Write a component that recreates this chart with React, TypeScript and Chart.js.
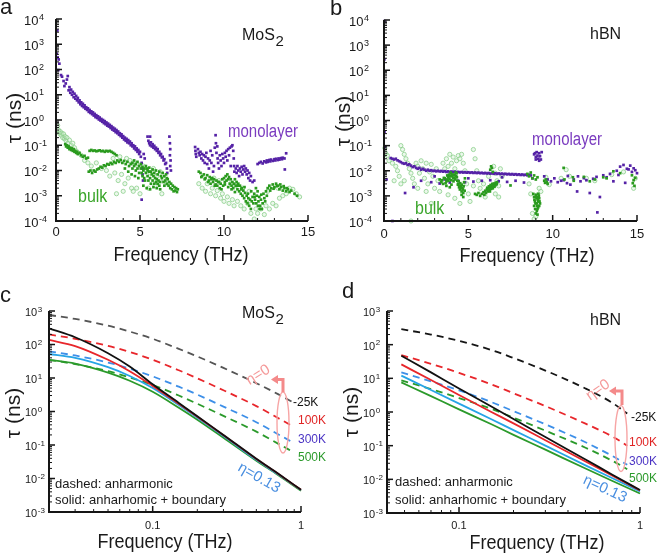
import React, { useEffect, useRef } from "react";
import { Chart, registerables } from "chart.js";
Chart.register(...registerables);

type Pt = [number, number];
const FONT = '"Liberation Sans", Arial, Helvetica, sans-serif';

// ---------- tick labels ----------
const scatterXTicks = [0, 5, 10, 15];
const scatterYExps = [-4, -3, -2, -1, 0, 1, 2, 3, 4];
const lineXTicks = [0.1, 1];
const lineYExps = [-3, -2, -1, 0, 1, 2, 3];

// ---------- panel a : MoS2 scatter ----------
const mos2Monolayer: Pt[] = [
  [0.08,3500],[0.04,420],[0.1,300],[0.16,250],[0.2,170],[0.14,95],[0.3,60],[0.36,52],[0.45,35],[0.5,22],[0.58,28],[0.65,40],[0.7,55],[0.75,15],[0.8,20],[0.85,12],[0.9,16],[0.95,10],[1.0,13],[1.05,8],[1.1,11],[1.15,7],[1.2,9],[1.25,6],[1.3,7.5],[1.35,5],[1.4,6],[1.45,4.2],[1.5,5],[1.55,3.6],[1.6,4.4],[1.65,3.2],[1.7,3.8],[1.75,2.8],[1.8,3.2],[1.85,2.5],[1.9,2.9],[1.95,2.1],[2.0,2.5],[2.05,1.9],[2.1,2.2],[2.15,1.7],[2.2,2.0],[2.25,1.5],[2.3,1.75],[2.35,1.3],[2.4,1.55],[2.45,1.2],[2.5,1.4],[2.55,1.05],[2.6,1.25],[2.65,0.95],[2.7,1.1],[2.75,0.85],[2.8,1.0],[2.85,0.75],[2.9,0.9],[2.95,0.68],[3.0,0.8],[3.05,0.6],[3.1,0.72],[3.15,0.55],[3.2,0.64],[3.25,0.48],[3.3,0.57],[3.35,0.42],[3.4,0.5],[3.45,0.38],[3.5,0.45],[3.55,0.33],[3.6,0.4],[3.65,0.3],[3.7,0.35],[3.75,0.26],[3.8,0.3],[3.85,0.23],[3.9,0.27],[3.95,0.2],[4.0,0.23],[4.05,0.17],[4.1,0.2],[4.15,0.15],[4.2,0.18],[4.25,0.13],[4.3,0.16],[4.35,0.12],[4.4,0.14],[4.45,0.1],[4.5,0.12],[4.55,0.09],[4.6,0.1],[4.65,0.075],[4.7,0.09],[4.75,0.065],[4.8,0.075],[4.85,0.055],[4.9,0.065],[4.95,0.045],[5.0,0.055],[5.05,0.035],[5.1,0.02],[5.12,0.012],[5.15,0.007],[5.18,0.004],[5.1,0.0007],[5.22,0.045],[5.28,0.03],
  [5.45,0.22],[5.6,0.22],[5.5,0.15],[5.55,0.12],[5.6,0.1],[5.65,0.13],[5.7,0.09],[5.75,0.11],[5.8,0.08],[5.85,0.095],[5.9,0.07],[5.95,0.08],[6.0,0.06],[6.05,0.07],[6.1,0.05],[6.15,0.055],[6.2,0.04],[6.25,0.045],[6.3,0.033],[6.35,0.035],[6.4,0.025],[6.45,0.028],[6.5,0.018],[6.55,0.02],[6.6,0.012],[6.62,0.008],[6.75,0.22],[6.78,0.12],[6.8,0.07],[6.78,0.04],[6.82,0.025],[6.8,0.015],[6.84,0.01],
  [8.28,0.085],[8.3,0.06],[8.32,0.045],[8.35,0.035],[8.45,0.07],[8.5,0.05],[8.55,0.04],[8.6,0.055],[8.65,0.03],[8.7,0.045],[8.75,0.025],[8.8,0.04],[8.85,0.02],[8.9,0.035],[8.95,0.05],[9.0,0.018],[9.05,0.03],[9.1,0.012],[9.15,0.025],[9.2,0.06],[9.25,0.02],[9.3,0.04],[9.35,0.009],[9.4,0.015],[9.45,0.08],[9.5,0.25],[9.52,0.12],[9.55,0.05],[9.6,0.09],[9.62,0.03],[9.65,0.02],[9.7,0.012],[9.75,0.04],[9.8,0.025],[9.85,0.015],[9.9,0.045],[9.95,0.03],[10.0,0.02],[10.05,0.05],[10.1,0.035],[10.15,0.06],[10.2,0.025],[10.25,0.07],[10.3,0.04],[10.35,0.08],[10.4,0.015],[10.45,0.09],[10.5,0.1],[10.55,0.06],[10.58,0.03],[10.6,0.015],[10.62,0.009],[10.7,0.012],[10.75,0.008],[10.8,0.015],[10.85,0.01],[10.9,0.006],[10.95,0.012],[11.0,0.009],[11.05,0.014],[11.1,0.007],[11.15,0.011],[11.2,0.015],[11.25,0.009],[11.3,0.012],[11.35,0.007],[11.4,0.01],[11.45,0.005],[11.5,0.008],[11.55,0.004],[11.6,0.006],[11.7,0.0035],[11.8,0.004],
  [12.0,0.018],[12.1,0.02],[12.2,0.022],[12.3,0.019],[12.4,0.023],[12.5,0.021],[12.55,0.025],[12.6,0.022],[12.7,0.026],[12.75,0.023],[12.8,0.027],[12.9,0.024],[13.0,0.028],[13.05,0.025],[13.1,0.029],[13.2,0.026],[13.25,0.03],[13.3,0.027],[13.4,0.031],[13.45,0.028],[13.5,0.032],[13.6,0.03],[13.7,0.048],[13.62,0.011],
];
const mos2BulkFilled: Pt[] = [
  [0.55,0.11],[0.6,0.09],[0.65,0.1],[0.7,0.08],[0.75,0.09],[0.8,0.07],[0.85,0.08],[0.9,0.065],[0.95,0.075],[1.0,0.06],[1.05,0.07],[1.1,0.055],[1.15,0.06],[1.2,0.05],[1.25,0.055],[1.3,0.045],[1.4,0.05],[1.5,0.04],[1.6,0.035],[1.7,0.038],[1.8,0.03],[1.9,0.032],[2.0,0.06],[2.1,0.065],[2.2,0.06],[2.3,0.062],[2.4,0.058],[2.5,0.06],[2.6,0.063],[2.7,0.058],[2.8,0.06],[2.9,0.055],[3.0,0.06],[3.1,0.057],[3.2,0.06],[3.3,0.055],[3.4,0.05],[3.5,0.045],[3.6,0.04],
  [1.95,0.009],[2.05,0.01],[2.15,0.008],[2.25,0.01],[2.35,0.009],[2.45,0.011],[2.55,0.012],[2.65,0.014],[2.75,0.013],[2.85,0.016],[2.95,0.015],[3.05,0.018],[3.15,0.017],[3.25,0.02],[3.35,0.018],[3.45,0.022],[3.55,0.02],[3.65,0.025],[3.75,0.022],[3.85,0.026],[3.95,0.02],[4.05,0.024],[4.15,0.018],[4.25,0.022],[4.35,0.015],[4.45,0.018],[4.55,0.012],[4.65,0.015],[4.75,0.01],[4.85,0.012],[4.95,0.008],[4.1,0.012],[4.3,0.009],[4.5,0.007],[4.7,0.006],[4.9,0.005],
  [4.55,0.02],[4.65,0.025],[4.75,0.018],[4.85,0.022],[4.95,0.015],[5.05,0.018],[5.15,0.014],[5.25,0.012],[5.35,0.015],[5.45,0.01],[5.55,0.013],[5.65,0.009],[5.75,0.011],[5.85,0.008],[5.95,0.01],[6.05,0.007],[6.15,0.009],[6.25,0.006],[6.35,0.008],[6.45,0.006],[6.55,0.007],[6.6,0.005],[5.2,0.0025],[5.4,0.002],[5.6,0.0018],[5.8,0.0022],[6.0,0.002],[6.2,0.0018],[6.45,0.0025],
  [5.05,0.012],[5.1,0.008],[5.15,0.006],[5.2,0.01],[5.25,0.005],[5.3,0.004],[5.35,0.008],[5.4,0.012],[5.45,0.006],[5.5,0.004],[5.55,0.009],[5.6,0.005],[5.65,0.003],[5.7,0.007],[5.75,0.004],[5.8,0.006],[5.85,0.003],[5.9,0.005],[5.95,0.0035],[6.0,0.0045],[6.05,0.003],[6.1,0.004],[6.15,0.0025],[6.2,0.0035],[6.3,0.005],[6.4,0.0035],[6.5,0.004],[6.6,0.003],[6.65,0.0045],[6.7,0.0025],[6.75,0.0035],[6.8,0.002],[6.85,0.003],[6.9,0.0018],[6.95,0.0025],[7.0,0.0015],[7.05,0.0022],[7.1,0.0016],[7.15,0.002],[7.2,0.0014],[7.25,0.0018],
  [8.6,0.008],[8.7,0.006],[8.8,0.007],[8.9,0.005],[9.0,0.0065],[9.1,0.004],[9.15,0.0055],[9.2,0.003],[9.3,0.005],[9.35,0.0035],[9.4,0.0045],[9.5,0.0028],[9.55,0.004],[9.6,0.0025],[9.7,0.0035],[9.75,0.002],[9.8,0.003],[9.9,0.0045],[9.95,0.0025],[10.0,0.005],[10.05,0.0035],[10.1,0.006],[10.15,0.004],[10.2,0.007],[10.25,0.0045],[10.3,0.0055],[10.35,0.003],[10.4,0.0045],[10.45,0.0025],[10.5,0.0035],[10.55,0.002],[10.6,0.003],[10.65,0.0045],[10.7,0.0025],[10.75,0.0035],[10.8,0.0018],[10.85,0.003],[10.9,0.0015],[10.95,0.0025],[11.0,0.0012],[11.05,0.002],[11.1,0.001],[11.15,0.0016],[11.2,0.0008],[11.25,0.0013],[11.3,0.0006],[11.35,0.001],[11.4,0.0005],[11.45,0.0008],[11.5,0.0004],[11.55,0.0007],[11.6,0.0003],[11.65,0.0006],[11.7,0.0009],[11.75,0.0005],[11.8,0.0012],[11.85,0.0007],[11.9,0.002],[11.95,0.001],[12.0,0.0015],[12.05,0.0006],[12.1,0.0009],[12.15,0.0004],[12.2,0.0007],[12.3,0.0005],[12.35,0.0012],[12.4,0.0008],[12.5,0.0015],[12.6,0.002],[12.7,0.0025],[12.8,0.002],[12.9,0.0028],[13.0,0.0022],[13.1,0.003],[13.2,0.0025],[13.3,0.0018],[13.4,0.0022],[13.5,0.0016],[13.6,0.002],[13.7,0.0015],[13.8,0.0018],[13.9,0.0014],[14.0,0.0016],[14.2,0.0012],[14.35,0.001],
  [8.5,0.009],[8.65,0.0055],[8.85,0.0045],[9.05,0.0035],[9.25,0.0045],[9.45,0.0025],[9.65,0.0035],[9.85,0.0018],[10.05,0.0028],[10.25,0.0022],[10.45,0.0018],[10.65,0.0014],[10.82,0.0025],[11.02,0.0018],[11.22,0.0022],[11.42,0.0012],[11.62,0.0015],[11.82,0.0009],[12.02,0.0004],[12.12,0.0003],[12.25,0.0003],[11.92,0.0005],[12.22,0.0011],[12.45,0.0006],[12.55,0.001],[12.75,0.0016],[12.95,0.0019],[13.15,0.0024],[13.35,0.0028],[13.55,0.0024],[13.75,0.002],
];
const mos2BulkOpen: Pt[] = [
  [0.1,0.6],[0.15,0.4],[0.2,0.3],[0.25,0.35],[0.3,0.25],[0.35,0.3],[0.4,0.2],[0.45,0.28],[0.5,0.18],[0.55,0.22],[0.6,0.15],[0.65,0.2],[0.7,0.12],[0.8,0.16],[0.9,0.1],[1.0,0.12],[1.1,0.08],[1.2,0.06],[1.3,0.05],[1.5,0.04],[1.7,0.025],[1.9,0.02],[2.1,0.015],[2.4,0.02],[2.7,0.012],[3.0,0.01],[3.2,0.006],[3.5,0.008],[3.7,0.004],[3.9,0.007],[4.1,0.003],[4.3,0.005],[4.5,0.002],[4.6,0.0015],[4.8,0.002],[5.0,0.0012],[3.4,0.03],[3.8,0.035],[4.2,0.03],[4.4,0.025],[4.6,0.02],[4.8,0.018],[5.2,0.015],[5.4,0.01],[5.6,0.008],[5.8,0.012],[6.0,0.006],[6.2,0.009],[6.4,0.0045],[6.6,0.003],[4.0,0.0015],[3.6,0.0012],[5.5,0.002],[5.9,0.0025],[6.3,0.0012],
  [8.5,0.003],[8.7,0.002],[8.9,0.0015],[9.0,0.003],[9.2,0.0012],[9.3,0.002],[9.5,0.001],[9.6,0.0016],[9.8,0.0008],[9.9,0.0012],[10.0,0.0006],[10.2,0.0009],[10.3,0.0005],[10.5,0.0007],[10.6,0.0004],[10.8,0.0006],[11.0,0.0004],[11.2,0.0003],[11.4,0.0005],[11.6,0.0002],[11.8,0.00012],[11.9,0.0003],[12.0,0.0002],[12.2,0.0003],[12.4,0.00018],[12.5,0.0004],[12.7,0.0003],[12.9,0.0005],[13.1,0.0004],[13.3,0.0008],[13.5,0.001],[13.7,0.0012],[13.9,0.002],[14.1,0.0018],[14.3,0.0012],[14.5,0.0009],[10.4,0.003],[10.7,0.0025],[11.1,0.002],[11.5,0.0015],[9.4,0.005],[9.7,0.004],[12.6,0.0015],[13.2,0.002],
];

// ---------- panel b : hBN scatter ----------
const hbnMonolayer: Pt[] = [
  [0.02,9000],[0.02,270],[0.03,0.36],[0.05,0.09],[0.15,0.0045],[0.4,0.032],[0.5,0.03],[0.6,0.028],[0.7,0.03],[0.8,0.026],[0.9,0.024],[1.0,0.022],[1.1,0.02],[1.2,0.019],[1.3,0.02],[1.4,0.017],[1.5,0.018],[1.6,0.016],[1.7,0.014],[1.8,0.015],[1.9,0.013],[2.0,0.012],[2.1,0.013],[2.2,0.011],[2.3,0.012],[2.4,0.011],[2.5,0.01],[2.6,0.011],[2.7,0.01],[2.8,0.0105],[2.9,0.0098],[3.0,0.01],[3.1,0.0095],[3.2,0.01],[3.3,0.0094],[3.4,0.0098],[3.5,0.0092],[3.6,0.0096],[3.7,0.009],[3.8,0.0094],[3.9,0.0089],[4.0,0.0093],[4.1,0.0088],[4.2,0.0092],[4.3,0.0087],[4.4,0.009],[4.5,0.0086],[4.6,0.0089],[4.7,0.0085],[4.8,0.0088],[4.9,0.0084],[5.0,0.0087],[5.1,0.0083],[5.2,0.0086],[5.3,0.0082],[5.4,0.0085],[5.5,0.0081],[5.6,0.0084],[5.7,0.008],[5.8,0.0083],[5.9,0.0079],[6.0,0.0082],[6.1,0.0078],[6.2,0.0081],[6.3,0.0077],[6.4,0.008],[6.5,0.0076],[6.6,0.0079],[6.7,0.0075],[6.8,0.0078],[6.9,0.0074],[7.0,0.0077],[7.1,0.0073],[7.2,0.0076],[7.3,0.0072],[7.4,0.0075],[7.5,0.0071],[7.6,0.0074],[7.7,0.007],[7.8,0.0073],[7.9,0.0069],[8.0,0.0072],[8.1,0.0068],[8.2,0.0071],[8.3,0.0067],[8.4,0.007],[8.5,0.0066],[8.6,0.0069],[8.7,0.0065],
  [1.25,0.0013],[1.75,0.0022],[0.5,0.0001],[2.2,0.004],[2.8,0.0035],[3.3,0.0031],[3.6,0.0045],[3.9,0.0034],[4.4,0.004],[4.8,0.0035],[5.3,0.0037],[5.8,0.004],[6.3,0.0042],[6.8,0.0038],[7.3,0.0036],[7.8,0.004],[8.3,0.0034],[8.8,0.005],[3.0,0.006],[5.0,0.005],[7.0,0.0055],
  [8.9,0.045],[8.95,0.05],[9.0,0.035],[9.05,0.055],[9.1,0.04],[9.15,0.03],[9.2,0.05],[9.25,0.038],[9.3,0.028],[9.35,0.055],[9.0,0.028],[9.2,0.025],
  [9.5,0.006],[9.7,0.0045],[9.9,0.0038],[10.1,0.005],[10.3,0.0035],[10.5,0.004],[10.65,0.0042],[10.85,0.0032],[11.05,0.0028],[11.25,0.0045],[11.45,0.0015],[11.65,0.0038],[11.85,0.0051],[12.0,0.0042],[12.2,0.0013],[12.4,0.0048],[12.6,0.0057],[12.65,0.00022],[12.8,0.0009],[13.0,0.0066],[13.2,0.0055],[13.4,0.0075],[13.6,0.0038],[13.8,0.01],[14.0,0.0146],[14.2,0.017],[14.3,0.0033],[14.4,0.012],[14.5,0.0113],[14.6,0.016],[14.7,0.009],[14.8,0.0125],[14.9,0.0105],[15.0,0.008],[13.9,0.0068],[11.5,0.006],[10.9,0.0062],
];
const hbnBulkFilled: Pt[] = [
  [3.3,0.0045],[3.4,0.0035],[3.5,0.003],[3.6,0.005],[3.7,0.0038],[3.75,0.0065],[3.8,0.0055],[3.85,0.007],[3.9,0.006],[3.95,0.0085],[4.0,0.0075],[4.05,0.006],[4.1,0.005],[4.15,0.007],[4.2,0.0065],[4.25,0.0085],[4.3,0.008],[4.35,0.004],[4.4,0.003],[4.45,0.0022],[4.5,0.0018],[4.55,0.0025],[4.6,0.0015],[4.65,0.002],[4.7,0.0013],[4.75,0.0035],[4.8,0.005],[4.0,0.0028],[3.9,0.0022],[3.7,0.0025],
  [3.45,0.0042],[3.55,0.0052],[3.65,0.0032],[3.72,0.0045],[3.82,0.004],[3.88,0.0048],[3.98,0.0042],[4.08,0.0068],[4.12,0.0038],[4.18,0.0052],[4.22,0.0045],[4.28,0.0062],[4.32,0.0055],[4.38,0.0028],[4.42,0.0038],[4.48,0.0025],[4.52,0.0032],[4.58,0.0021],[4.62,0.0028],[4.68,0.0018],[4.72,0.0024],[4.78,0.0016],[4.6,0.0011],[4.7,0.0009],
  [5.4,0.0012],[5.5,0.0011],[5.6,0.0013],[5.7,0.001],[5.8,0.0012],[5.9,0.0014],[6.0,0.0016],[6.1,0.0018],[6.15,0.0015],[6.2,0.002],[6.25,0.0017],[6.3,0.0022],[6.35,0.0019],[6.4,0.0024],[6.45,0.002],[6.5,0.0026],[6.55,0.0023],[6.6,0.0028],[6.3,0.011],[6.35,0.015],[6.4,0.013],[6.45,0.009],
  [5.95,0.0011],[6.05,0.0013],[6.12,0.0021],[6.22,0.0024],[6.28,0.0015],[6.32,0.0027],[6.38,0.0021],[6.42,0.003],[6.48,0.0024],[6.52,0.0031],[6.58,0.0026],[6.62,0.0033],[6.68,0.0029],[6.7,0.0035],
  [7.5,0.0026],[8.5,0.0075],[8.6,0.006],[8.7,0.0085],[8.8,0.005],[8.9,0.0065],[9.0,0.0045],[9.1,0.0055],
  [8.85,0.0012],[8.9,0.0009],[8.95,0.0006],[8.9,0.0004],[9.0,0.0011],[9.05,0.0008],[9.05,0.0005],[9.1,0.0003],[9.1,0.0009],[9.15,0.0006],[9.15,0.0012],[9.2,0.0004],[9.2,0.0008],[9.25,0.0005],[9.0,0.0002],[9.1,0.00018],
  [8.92,0.0007],[8.98,0.0005],[9.02,0.0009],[9.08,0.0004],[9.12,0.0007],[9.18,0.001],[9.22,0.0006],[8.96,0.0003],[9.06,0.00025],[9.14,0.00035],
  [9.5,0.004],[9.55,0.0033],[9.6,0.0045],[9.65,0.0035],[9.7,0.003],
  [10.65,0.013],[10.7,0.0045],[11.2,0.0055],[11.25,0.004],[11.85,0.0057],[12.2,0.0038],[12.5,0.0045],[13.0,0.0055],[13.2,0.005],[13.6,0.0095],[14.0,0.008],[14.7,0.0066],[14.75,0.0032],[14.8,0.0042],[14.85,0.0025],[14.9,0.0052],
];
const hbnBulkOpen: Pt[] = [
  [0.05,0.08],[0.1,0.05],[0.2,0.04],[0.3,0.025],[0.5,0.02],[0.7,0.015],[0.8,0.01],[0.9,0.006],[1.0,0.1],[1.1,0.07],[1.2,0.045],[1.3,0.03],[1.4,0.02],[1.5,0.012],[1.6,0.008],[1.7,0.005],[1.8,0.003],[1.9,0.02],[2.0,0.015],[2.1,0.008],[2.2,0.025],[2.3,0.012],[2.4,0.005],[2.5,0.02],[2.6,0.003],[2.7,0.009],[2.8,0.018],[2.9,0.006],[3.0,0.002],[3.1,0.012],[3.2,0.004],[1.2,0.004],[1.0,0.003],[0.6,0.004],[2.0,0.002],[2.5,0.0015],[3.3,0.0015],
  [3.5,0.02],[3.6,0.012],[3.7,0.03],[3.8,0.015],[3.9,0.045],[4.0,0.02],[4.1,0.035],[4.2,0.012],[4.3,0.025],[4.4,0.04],[4.5,0.03],[4.6,0.045],[4.7,0.02],[4.8,0.01],[4.9,0.003],[5.0,0.0012],[5.1,0.0006],[5.3,0.07],[5.4,0.03],[5.5,0.01],[5.3,0.0025],[5.6,0.004],[5.7,0.002],[5.9,0.003],[6.0,0.0009],[6.2,0.006],[6.5,0.015],[6.6,0.008],[6.7,0.004],[6.8,0.0025],[6.9,0.012],[7.0,0.006],[6.6,0.0012],[6.8,0.0009],[4.2,0.0008],[4.5,0.0005],[3.8,0.0011],[2.8,0.0005],[1.6,0.0001],
  [8.6,0.003],[8.7,0.0012],[8.8,0.0002],[8.9,0.00012],[9.0,0.00015],[9.1,0.0011],[9.2,0.002],[9.3,0.0015],[9.8,0.0028],[10.5,0.005],[11.0,0.006],[12.0,0.005],[12.5,0.004],[13.5,0.007],[14.2,0.009],[14.9,0.005],[14.8,0.002],[9.6,0.0055],[10.8,0.011],
];

// ---------- panel c : MoS2 lifetimes (log-log) ----------
const cDashX = [0.02, 0.03, 0.05, 0.07, 0.1, 0.15, 0.2, 0.3, 0.5, 0.7, 0.88];
const cDash25K = [760, 580, 365, 243, 148, 74, 44, 20, 7, 3.3, 1.9];
const cDash100K = [200, 148, 91, 60, 35, 17, 9.8, 4.3, 1.45, 0.64, 0.36];
const cDash300K = [62, 47, 29, 19, 11.2, 5.5, 3.2, 1.4, 0.48, 0.21, 0.12];
const cDash500K = [35, 26, 16, 10.4, 6.2, 3.0, 1.7, 0.74, 0.25, 0.11, 0.063];
const cSolidX = [0.02, 0.03, 0.05, 0.07, 0.1, 0.15, 0.2, 0.3, 0.5, 0.7, 1];
const cSolid25K = [305, 165, 55, 22, 6.5, 1.8, 0.72, 0.2, 0.039, 0.014, 0.0046];
const cSolid100K = [137, 90, 35, 16, 5.8, 1.7, 0.7, 0.195, 0.038, 0.0138, 0.0046];
const cSolid300K = [52, 40, 21, 11.5, 5.0, 1.55, 0.65, 0.185, 0.036, 0.0133, 0.0045];
const cSolid500K = [35, 27, 14.5, 8.3, 3.9, 1.3, 0.57, 0.165, 0.034, 0.0127, 0.0043];

// ---------- panel d : hBN lifetimes (log-log) ----------
const dDashX = [0.048, 0.07, 0.1, 0.15, 0.2, 0.3, 0.5, 0.7, 0.85];
const dDash25K = [288, 200, 130, 70, 40, 17, 5, 1.9, 0.9];
const dDash100K = [49, 27, 14.5, 6.7, 3.6, 1.5, 0.45, 0.19, 0.1];
const dDash300K = [15, 8.1, 4.4, 2.0, 1.06, 0.43, 0.126, 0.05, 0.027];
const dDash500K = [8.7, 4.8, 2.6, 1.26, 0.68, 0.28, 0.087, 0.036, 0.02];
const dSolidX = [0.048, 0.07, 0.1, 0.15, 0.2, 0.3, 0.5, 0.7, 1];
const dSolid25K = [47, 15, 5.0, 1.48, 0.62, 0.18, 0.039, 0.014, 0.0048];
const dSolid100K = [26, 8.9, 3.2, 1.02, 0.46, 0.145, 0.034, 0.013, 0.0047];
const dSolid300K = [12, 4.5, 1.78, 0.62, 0.29, 0.1, 0.026, 0.011, 0.0044];
const dSolid500K = [7.6, 2.95, 1.2, 0.44, 0.21, 0.076, 0.021, 0.0091, 0.0038];

// ---------- colours ----------
const PURPLE = "#5522a6";
const PURPLE_TXT = "#7a3bbf";
const GREEN_D = "#2a9a1e";
const GREEN_TXT = "#3aa52a";
const GREEN_L = "#8ccf8c";
const RED = "#e8262b";
const BLUE_D = "#3d8fe8";
const BLUE_S = "#26a4e6";
const GREEN_LINE = "#2b9a2b";
const PINK = "#f59a9a";
const ETA_BLUE = "#4a8fe0";

const xy = (xs: number[], ys: number[]) => xs.map((x, i) => ({ x, y: ys[i] }));
const pts = (p: Pt[]) => p.map(([x, y]) => ({ x, y }));

function scatterSets(filled: Pt[], mono: Pt[], open: Pt[]) {
  return [
    { data: pts(filled), pointStyle: "rect", pointRadius: 1.9, backgroundColor: GREEN_D, borderWidth: 0, clip: false },
    { data: pts(mono), pointStyle: "rect", pointRadius: 1.9, backgroundColor: PURPLE, borderWidth: 0, clip: false },
    { data: pts(open), pointStyle: "circle", pointRadius: 2.1, backgroundColor: "rgba(200,236,200,0.35)", borderColor: GREEN_L, borderWidth: 0.8, clip: false },
  ];
}

function lineSet(xs: number[], ys: number[], color: string, dashed: boolean) {
  return {
    data: xy(xs, ys),
    showLine: true,
    borderColor: color,
    borderWidth: 1.8,
    borderDash: dashed ? [7, 5] : [],
    pointRadius: 0,
    cubicInterpolationMode: "monotone",
    fill: false,
    clip: false,
  };
}

interface TextItem {
  s: string; x: number; y: number; size: number; color?: string; rot?: number;
  align?: CanvasTextAlign; base?: CanvasTextBaseline; sy?: number; sub?: string; subSize?: number; subDy?: number;
}
interface PanelSpec {
  canvas: { x: number; y: number; w: number; h: number };
  plot: { l: number; t: number; r: number; b: number };
  xLog: boolean; xMin: number; xMax: number; yMin: number; yMax: number;
  xTicks: number[]; yExps: number[];
  yLabelLeft: number; yBase: number; yExpSize: number;
  xLabelY: number; xLabelSize: number;
  texts: TextItem[];
  ellipse?: { cx: number; cy: number; rx: number; ry: number };
  arrow?: { x: number; yBottom: number; yTop: number; xHead: number };
  datasets: any[];
}

function drawText(ctx: CanvasRenderingContext2D, t: TextItem, ox: number, oy: number) {
  ctx.save();
  ctx.translate(t.x - ox, t.y - oy);
  if (t.rot) ctx.rotate((t.rot * Math.PI) / 180);
  if (t.sy) ctx.scale(1, t.sy);
  ctx.font = `${t.size}px ${FONT}`;
  ctx.fillStyle = t.color || "#1a1a1a";
  ctx.textAlign = t.align || "left";
  ctx.textBaseline = t.base || "alphabetic";
  ctx.fillText(t.s, 0, 0);
  if (t.sub) {
    const w = ctx.measureText(t.s).width;
    ctx.font = `${t.subSize || t.size * 0.8}px ${FONT}`;
    ctx.textAlign = "left";
    ctx.fillText(t.sub, w + 0.5, t.subDy || 5);
  }
  ctx.restore();
}

function decor(spec: PanelSpec) {
  return {
    id: "decor",
    afterDatasetsDraw(chart: any) {
      const ctx: CanvasRenderingContext2D = chart.ctx;
      const a = chart.chartArea;
      const xs = chart.scales.x;
      const ys = chart.scales.y;
      const ox = spec.canvas.x, oy = spec.canvas.y;
      ctx.save();
      ctx.strokeStyle = "#151515";
      ctx.fillStyle = "#1a1a1a";
      const seg = (x1: number, y1: number, x2: number, y2: number, w: number) => {
        ctx.lineWidth = w;
        ctx.beginPath();
        ctx.moveTo(x1, y1);
        ctx.lineTo(x2, y2);
        ctx.stroke();
      };
      const e0 = spec.yExps[0], e1 = spec.yExps[spec.yExps.length - 1];
      for (let e = e0; e < e1; e++) {
        for (let m = 2; m <= 9; m++) {
          const y = ys.getPixelForValue(m * Math.pow(10, e));
          seg(a.left, y, a.left + 3, y, 1);
        }
      }
      for (const e of spec.yExps) {
        const y = ys.getPixelForValue(Math.pow(10, e));
        seg(a.left, y, a.left + 6, y, 1.5);
        ctx.textAlign = "left";
        ctx.textBaseline = "alphabetic";
        ctx.font = `${spec.yBase}px ${FONT}`;
        ctx.fillText("10", spec.yLabelLeft - ox, y + spec.yBase * 0.45);
        const w = ctx.measureText("10").width;
        ctx.font = `${spec.yExpSize}px ${FONT}`;
        ctx.fillText(String(e), spec.yLabelLeft - ox + w + 0.5, y + 0.5);
      }
      if (spec.xLog) {
        const lo = Math.floor(Math.log10(spec.xMin)), hi = Math.ceil(Math.log10(spec.xMax));
        for (let e = lo; e < hi; e++) {
          for (let m = 1; m <= 9; m++) {
            const v = m * Math.pow(10, e);
            if (v < spec.xMin * 0.999 || v > spec.xMax * 1.001) continue;
            const x = xs.getPixelForValue(v);
            seg(x, a.bottom, x, a.bottom - (m === 1 ? 6 : 3), m === 1 ? 1.5 : 1);
          }
        }
        const x1 = xs.getPixelForValue(spec.xMax);
        seg(x1, a.bottom, x1, a.bottom - 6, 1.5);
      } else {
        for (let v = spec.xMin; v <= spec.xMax; v += 1) {
          const x = xs.getPixelForValue(v);
          const major = spec.xTicks.indexOf(v) >= 0;
          seg(x, a.bottom, x, a.bottom - (major ? 6 : 3), major ? 1.5 : 1);
        }
      }
      ctx.font = `${spec.xLabelSize}px ${FONT}`;
      ctx.textAlign = "center";
      ctx.textBaseline = "middle";
      for (const v of spec.xTicks) {
        ctx.fillText(String(v), xs.getPixelForValue(v), spec.xLabelY - oy);
      }
      ctx.lineWidth = 2;
      ctx.beginPath();
      ctx.moveTo(a.left, a.top);
      ctx.lineTo(a.left, a.bottom);
      ctx.lineTo(a.right, a.bottom);
      ctx.stroke();
      if (spec.ellipse) {
        const el = spec.ellipse;
        ctx.strokeStyle = "#f7a5a5";
        ctx.lineWidth = 1.4;
        ctx.beginPath();
        ctx.ellipse(el.cx - ox, el.cy - oy, el.rx, el.ry, 0, 0, Math.PI * 2);
        ctx.stroke();
      }
      if (spec.arrow) {
        const ar = spec.arrow;
        ctx.strokeStyle = "#f48a8a";
        ctx.fillStyle = "#f48a8a";
        ctx.lineWidth = 3;
        ctx.beginPath();
        ctx.moveTo(ar.x - ox, ar.yBottom - oy);
        ctx.lineTo(ar.x - ox, ar.yTop - oy);
        ctx.lineTo(ar.xHead + 5 - ox, ar.yTop - oy);
        ctx.stroke();
        ctx.beginPath();
        ctx.moveTo(ar.xHead - ox, ar.yTop - oy);
        ctx.lineTo(ar.xHead + 7 - ox, ar.yTop - 4.5 - oy);
        ctx.lineTo(ar.xHead + 7 - ox, ar.yTop + 4.5 - oy);
        ctx.closePath();
        ctx.fill();
      }
      for (const t of spec.texts) drawText(ctx, t, ox, oy);
      ctx.restore();
    },
  };
}

function buildConfig(spec: PanelSpec): any {
  const c = spec.canvas, p = spec.plot;
  return {
    type: "scatter",
    data: { datasets: spec.datasets },
    options: {
      responsive: false,
      maintainAspectRatio: false,
      animation: false,
      devicePixelRatio: 1,
      events: [],
      layout: {
        autoPadding: false,
        padding: { left: p.l - c.x, top: p.t - c.y, right: c.x + c.w - p.r, bottom: c.y + c.h - p.b },
      },
      scales: {
        x: { type: spec.xLog ? "logarithmic" : "linear", min: spec.xMin, max: spec.xMax, display: false },
        y: { type: "logarithmic", min: spec.yMin, max: spec.yMax, display: false },
      },
      plugins: { legend: { display: false }, tooltip: { enabled: false } },
    },
    plugins: [decor(spec)],
  };
}

const TITLE_X = "Frequency (THz)";
const TITLE_Y = "τ (ns)";

const panelA: PanelSpec = {
  canvas: { x: 0, y: 0, w: 328, h: 268 },
  plot: { l: 56, t: 19, r: 308, b: 221 },
  xLog: false, xMin: 0, xMax: 15, yMin: 1e-4, yMax: 1e4,
  xTicks: scatterXTicks, yExps: scatterYExps,
  yLabelLeft: 24, yBase: 13, yExpSize: 9, xLabelY: 232, xLabelSize: 13,
  texts: [
    { s: "a", x: 0, y: 14, size: 22 },
    { s: "MoS", x: 242, y: 40, size: 16, sub: "2", subSize: 15, subDy: 6 },
    { s: "monolayer", x: 228, y: 137, size: 15, sy: 1.2, color: PURPLE_TXT },
    { s: "bulk", x: 78, y: 202, size: 16, sy: 1.15, color: GREEN_TXT },
    { s: TITLE_Y, x: 15, y: 118, size: 21, rot: -90, align: "center", base: "middle" },
    { s: TITLE_X, x: 181, y: 255, size: 18, sy: 1.15, align: "center", base: "middle" },
  ],
  datasets: scatterSets(mos2BulkFilled, mos2Monolayer, mos2BulkOpen),
};

const panelB: PanelSpec = {
  canvas: { x: 328, y: 0, w: 334, h: 268 },
  plot: { l: 384, t: 20, r: 637, b: 221 },
  xLog: false, xMin: 0, xMax: 15, yMin: 1e-4, yMax: 1e4,
  xTicks: scatterXTicks, yExps: scatterYExps,
  yLabelLeft: 349, yBase: 13, yExpSize: 9, xLabelY: 234, xLabelSize: 13,
  texts: [
    { s: "b", x: 330, y: 15, size: 22 },
    { s: "hBN", x: 590, y: 39, size: 16 },
    { s: "monolayer", x: 532, y: 145, size: 15, sy: 1.2, color: PURPLE_TXT },
    { s: "bulk", x: 415, y: 214, size: 16, sy: 1.15, color: GREEN_TXT },
    { s: TITLE_Y, x: 344, y: 121, size: 21, rot: -90, align: "center", base: "middle" },
    { s: TITLE_X, x: 527, y: 256, size: 18, sy: 1.15, align: "center", base: "middle" },
  ],
  datasets: scatterSets(hbnBulkFilled, hbnMonolayer, hbnBulkOpen),
};

const panelC: PanelSpec = {
  canvas: { x: 0, y: 268, w: 330, h: 285 },
  plot: { l: 49, t: 311, r: 301, b: 512 },
  xLog: true, xMin: 0.02, xMax: 1, yMin: 1e-3, yMax: 1e3,
  xTicks: lineXTicks, yExps: lineYExps,
  yLabelLeft: 25, yBase: 11, yExpSize: 8, xLabelY: 526, xLabelSize: 11,
  texts: [
    { s: "c", x: 0, y: 302, size: 22 },
    { s: "MoS", x: 242, y: 318, size: 16, sub: "2", subSize: 15, subDy: 6 },
    { s: "-25K", x: 293, y: 403, size: 12, base: "middle", color: "#111" },
    { s: "100K", x: 298, y: 421, size: 12, base: "middle", color: "#e02424" },
    { s: "300K", x: 298, y: 440, size: 12, base: "middle", color: "#4b34c4" },
    { s: "500K", x: 298, y: 458, size: 12, base: "middle", color: GREEN_LINE },
    { s: "dashed: anharmonic", x: 55, y: 484, size: 13, base: "middle" },
    { s: "solid: anharhomic + boundary", x: 55, y: 500, size: 13, base: "middle" },
    { s: "η=0", x: 258, y: 375, size: 15, rot: -32, align: "center", base: "middle", color: PINK },
    { s: "η=0.13", x: 259, y: 478, size: 15, rot: 30, align: "center", base: "middle", color: ETA_BLUE },
    { s: TITLE_Y, x: 14, y: 413, size: 21, rot: -90, align: "center", base: "middle" },
    { s: TITLE_X, x: 165, y: 542, size: 18, sy: 1.15, align: "center", base: "middle" },
  ],
  ellipse: { cx: 283, cy: 422.5, rx: 6, ry: 30.5 },
  arrow: { x: 283, yBottom: 392, yTop: 379.5, xHead: 271 },
  datasets: [
    lineSet(cSolidX, cSolid25K, "#111111", false),
    lineSet(cSolidX, cSolid100K, RED, false),
    lineSet(cSolidX, cSolid300K, BLUE_S, false),
    lineSet(cSolidX, cSolid500K, GREEN_LINE, false),
    lineSet(cDashX, cDash25K, "#555555", true),
    lineSet(cDashX, cDash100K, RED, true),
    lineSet(cDashX, cDash300K, BLUE_D, true),
    lineSet(cDashX, cDash500K, GREEN_LINE, true),
  ],
};

const panelD: PanelSpec = {
  canvas: { x: 330, y: 268, w: 332, h: 285 },
  plot: { l: 387, t: 311, r: 640, b: 513 },
  xLog: true, xMin: 0.04, xMax: 1, yMin: 1e-3, yMax: 1e3,
  xTicks: lineXTicks, yExps: lineYExps,
  yLabelLeft: 363, yBase: 11, yExpSize: 8, xLabelY: 526, xLabelSize: 11,
  texts: [
    { s: "d", x: 342, y: 298, size: 22 },
    { s: "hBN", x: 590, y: 325, size: 16 },
    { s: "-25K", x: 631, y: 418, size: 12, base: "middle", color: "#111" },
    { s: "100K", x: 629, y: 443, size: 12, base: "middle", color: "#e02424" },
    { s: "300K", x: 629, y: 462, size: 12, base: "middle", color: "#4b34c4" },
    { s: "500K", x: 629, y: 479, size: 12, base: "middle", color: GREEN_LINE },
    { s: "dashed: anharmonic", x: 395, y: 482, size: 13, base: "middle" },
    { s: "solid: anharhomic + boundary", x: 395, y: 500, size: 13, base: "middle" },
    { s: "η=0", x: 598, y: 390, size: 15, rot: -35, align: "center", base: "middle", color: PINK },
    { s: "η=0.13", x: 605, y: 489, size: 15, rot: 25, align: "center", base: "middle", color: ETA_BLUE },
    { s: TITLE_Y, x: 352, y: 412, size: 21, rot: -90, align: "center", base: "middle" },
    { s: TITLE_X, x: 537, y: 543, size: 18, sy: 1.15, align: "center", base: "middle" },
  ],
  ellipse: { cx: 621, cy: 438.5, rx: 6, ry: 33 },
  arrow: { x: 622, yBottom: 405, yTop: 391, xHead: 609 },
  datasets: [
    lineSet(dSolidX, dSolid25K, "#111111", false),
    lineSet(dSolidX, dSolid100K, RED, false),
    lineSet(dSolidX, dSolid300K, BLUE_S, false),
    lineSet(dSolidX, dSolid500K, GREEN_LINE, false),
    lineSet(dDashX, dDash25K, "#151515", true),
    lineSet(dDashX, dDash100K, RED, true),
    lineSet(dDashX, dDash300K, BLUE_D, true),
    lineSet(dDashX, dDash500K, GREEN_LINE, true),
  ],
};

function Panel({ spec }: { spec: PanelSpec }) {
  const ref = useRef<HTMLCanvasElement>(null);
  useEffect(() => {
    if (!ref.current) return;
    const chart = new Chart(ref.current, buildConfig(spec));
    return () => chart.destroy();
  }, [spec]);
  const c = spec.canvas;
  return (
    <canvas
      ref={ref}
      width={c.w}
      height={c.h}
      style={{ position: "absolute", left: c.x, top: c.y, width: c.w, height: c.h }}
    />
  );
}

export default function App() {
  return (
    <div style={{ position: "absolute", left: 0, top: 0, width: 662, height: 553, background: "#ffffff", overflow: "hidden" }}>
      <Panel spec={panelA} />
      <Panel spec={panelB} />
      <Panel spec={panelC} />
      <Panel spec={panelD} />
    </div>
  );
}
